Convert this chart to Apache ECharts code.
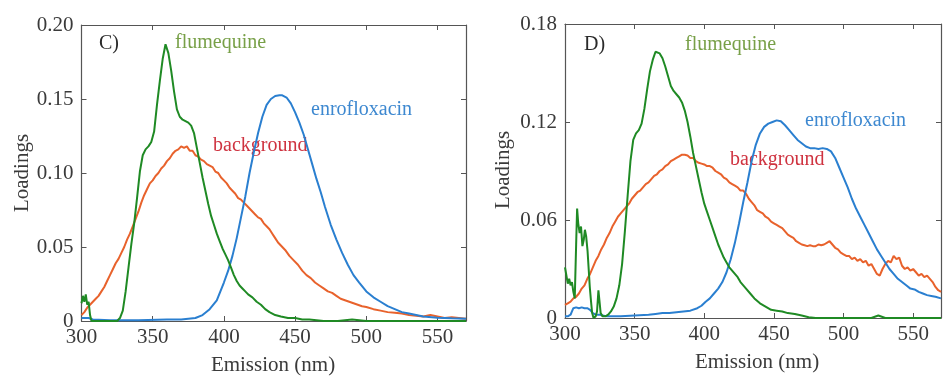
<!DOCTYPE html>
<html>
<head>
<meta charset="utf-8">
<script src="https://cdn.jsdelivr.net/npm/echarts@6/dist/echarts.min.js"></script>
<style>html,body{margin:0;padding:0;background:#fff}#c{width:944px;height:378px}</style>
</head>
<body>
<div id="c"></div>
<script>
// ---- Data (emission nm, loading) ----
const xTicks = [300, 350, 400, 450, 500, 550];
const yTicksC = [0, 0.05, 0.10, 0.15, 0.20];
const yTicksD = [0, 0.06, 0.12, 0.18];

const fluC = [[300,0.012],[301,0.017],[302,0.013],[303,0.018],[304,0.011],[305,0.013],[306,0.004],[307,0.000],[310,0.000],[315,0.000],[320,0.000],[325,0.000],[327,0.002],[329,0.007],[331,0.020],[333,0.036],[335,0.052],[337,0.066],[339,0.083],[341,0.101],[343,0.112],[345,0.116],[347,0.118],[349,0.121],[351,0.128],[353,0.146],[355,0.162],[357,0.177],[359,0.187],[360,0.186],[361,0.181],[363,0.169],[365,0.155],[367,0.143],[369,0.138],[371,0.136],[373,0.135],[375,0.134],[377,0.132],[379,0.127],[381,0.117],[383,0.107],[385,0.097],[387,0.088],[389,0.079],[391,0.071],[393,0.065],[395,0.059],[397,0.054],[399,0.049],[401,0.045],[403,0.041],[405,0.036],[407,0.031],[409,0.027],[411,0.024],[413,0.022],[415,0.020],[417,0.018],[420,0.016],[423,0.013],[426,0.011],[429,0.008],[432,0.006],[436,0.004],[440,0.003],[445,0.002],[450,0.002],[455,0.001],[460,0.001],[470,0.000],[480,0.000],[490,0.001],[500,0.000],[520,0.000],[540,0.000],[560,0.000],[570,0.000]];

const enroC = [[300,0.002],[305,0.002],[308,0.001],[320,0.0005],[340,0.0005],[360,0.001],[370,0.001],[375,0.0015],[380,0.002],[385,0.004],[390,0.008],[395,0.014],[400,0.026],[403,0.034],[406,0.044],[409,0.056],[412,0.070],[415,0.084],[418,0.100],[421,0.114],[424,0.127],[427,0.138],[430,0.146],[433,0.150],[436,0.152],[439,0.1525],[441,0.1525],[444,0.151],[447,0.147],[450,0.141],[453,0.134],[456,0.126],[459,0.116],[462,0.106],[465,0.096],[468,0.087],[471,0.077],[475,0.065],[479,0.055],[483,0.046],[487,0.038],[491,0.031],[495,0.026],[500,0.020],[505,0.016],[510,0.013],[515,0.010],[520,0.008],[525,0.006],[530,0.005],[535,0.004],[540,0.003],[550,0.0022],[560,0.0018],[570,0.0015]];

const bgC = [[300,0.004],[302,0.006],[304,0.009],[306,0.011],[308,0.013],[310,0.015],[312,0.017],[314,0.020],[316,0.023],[318,0.027],[320,0.031],[322,0.035],[324,0.039],[326,0.042],[328,0.046],[330,0.050],[332,0.055],[334,0.059],[336,0.064],[338,0.069],[340,0.074],[342,0.080],[344,0.085],[346,0.089],[348,0.093],[350,0.095],[352,0.098],[354,0.100],[356,0.103],[358,0.105],[360,0.108],[362,0.110],[364,0.113],[366,0.115],[368,0.116],[370,0.118],[372,0.117],[374,0.118],[376,0.115],[378,0.115],[380,0.112],[382,0.111],[384,0.109],[386,0.108],[388,0.106],[390,0.105],[392,0.104],[394,0.101],[396,0.100],[398,0.097],[400,0.095],[402,0.093],[404,0.090],[406,0.088],[408,0.086],[410,0.083],[412,0.082],[414,0.080],[416,0.078],[418,0.076],[420,0.074],[422,0.072],[424,0.070],[426,0.069],[428,0.066],[430,0.064],[432,0.062],[434,0.059],[436,0.056],[438,0.053],[440,0.051],[443,0.048],[446,0.044],[449,0.041],[452,0.038],[455,0.034],[458,0.031],[461,0.029],[464,0.026],[467,0.024],[470,0.022],[473,0.020],[476,0.019],[479,0.017],[482,0.015],[485,0.014],[488,0.013],[491,0.012],[494,0.011],[497,0.010],[500,0.0095],[505,0.008],[510,0.007],[515,0.006],[520,0.0055],[525,0.005],[530,0.004],[535,0.0035],[540,0.003],[545,0.004],[550,0.003],[555,0.002],[560,0.0025],[565,0.002],[570,0.0015]];

const fluD = [[300,0.031],[301,0.026],[302,0.021],[303,0.024],[304,0.020],[305,0.022],[306,0.016],[307,0.012],[308,0.045],[308.7,0.067],[309.5,0.058],[310.5,0.052],[311.5,0.056],[312.5,0.044],[313.5,0.048],[314.3,0.054],[315.2,0.050],[316.2,0.041],[317,0.030],[317.8,0.019],[318.7,0.010],[319.5,0.003],[320.5,0.000],[322,0.001],[323,0.004],[324,0.017],[324.8,0.010],[325.6,0.003],[327,0.001],[329,0.001],[331,0.002],[333,0.004],[335,0.007],[337,0.012],[339,0.020],[341,0.033],[343,0.053],[345,0.075],[347,0.096],[349,0.109],[351,0.113],[353,0.115],[355,0.119],[357,0.128],[359,0.140],[361,0.151],[363,0.158],[365,0.163],[366,0.164],[368,0.162],[370,0.159],[372,0.154],[374,0.148],[376,0.142],[378,0.139],[380,0.137],[382,0.135],[384,0.132],[386,0.127],[388,0.120],[390,0.111],[392,0.101],[394,0.093],[396,0.085],[398,0.077],[400,0.070],[402,0.065],[404,0.060],[406,0.055],[408,0.050],[410,0.045],[412,0.041],[414,0.037],[416,0.034],[418,0.031],[420,0.029],[422,0.027],[424,0.025],[426,0.022],[428,0.020],[430,0.018],[433,0.015],[436,0.012],[440,0.009],[444,0.007],[448,0.005],[452,0.0045],[456,0.004],[460,0.003],[465,0.0025],[470,0.0015],[475,0.0005],[480,0.000],[500,0.000],[520,0.000],[525,0.0015],[530,0.000],[550,0.000],[570,0.000]];

const enroD = [[300,0.001],[302,0.001],[304,0.002],[305,0.004],[306,0.006],[308,0.0065],[310,0.006],[312,0.0065],[314,0.006],[316,0.006],[318,0.005],[320,0.003],[322,0.002],[325,0.002],[330,0.001],[340,0.001],[350,0.0015],[360,0.002],[365,0.0025],[370,0.003],[375,0.003],[380,0.0035],[385,0.004],[390,0.0045],[395,0.006],[398,0.0075],[401,0.010],[404,0.012],[407,0.015],[410,0.018],[413,0.022],[416,0.028],[419,0.036],[422,0.046],[425,0.058],[428,0.071],[431,0.083],[434,0.096],[437,0.106],[440,0.113],[443,0.117],[446,0.119],[449,0.120],[452,0.121],[455,0.1205],[458,0.118],[461,0.115],[464,0.112],[467,0.109],[470,0.107],[473,0.105],[476,0.104],[479,0.104],[482,0.1035],[485,0.104],[488,0.1035],[491,0.102],[494,0.098],[497,0.092],[500,0.086],[503,0.080],[506,0.073],[509,0.067],[512,0.062],[515,0.057],[518,0.052],[521,0.047],[524,0.042],[527,0.038],[530,0.034],[533,0.030],[536,0.027],[539,0.024],[542,0.022],[545,0.020],[548,0.018],[551,0.0175],[554,0.016],[557,0.015],[560,0.014],[563,0.0135],[566,0.013],[570,0.012]];

const bgD = [[300,0.008],[302,0.009],[304,0.010],[306,0.012],[308,0.013],[310,0.015],[312,0.018],[314,0.020],[316,0.024],[318,0.027],[320,0.031],[322,0.035],[324,0.038],[326,0.042],[328,0.045],[330,0.049],[332,0.052],[334,0.056],[336,0.059],[338,0.062],[340,0.064],[342,0.066],[344,0.068],[346,0.070],[348,0.073],[350,0.075],[352,0.077],[354,0.078],[356,0.080],[358,0.082],[360,0.083],[362,0.085],[364,0.087],[366,0.088],[368,0.090],[370,0.091],[372,0.093],[374,0.094],[376,0.096],[378,0.097],[380,0.098],[382,0.099],[384,0.100],[386,0.100],[388,0.0995],[390,0.098],[392,0.098],[394,0.096],[396,0.095],[398,0.0945],[400,0.094],[402,0.093],[404,0.093],[406,0.092],[408,0.090],[410,0.089],[412,0.088],[414,0.086],[416,0.085],[418,0.083],[420,0.082],[422,0.081],[424,0.080],[426,0.078],[428,0.078],[430,0.076],[432,0.073],[434,0.071],[436,0.069],[438,0.066],[440,0.065],[442,0.064],[444,0.062],[446,0.061],[448,0.059],[450,0.058],[452,0.057],[454,0.056],[456,0.055],[458,0.053],[460,0.051],[462,0.050],[464,0.049],[466,0.047],[468,0.046],[470,0.045],[472,0.0445],[474,0.044],[476,0.0445],[478,0.044],[480,0.044],[482,0.045],[484,0.0445],[486,0.045],[488,0.046],[490,0.047],[492,0.045],[494,0.043],[496,0.042],[498,0.040],[500,0.039],[502,0.038],[504,0.038],[506,0.036],[508,0.037],[510,0.035],[512,0.036],[514,0.034],[516,0.035],[518,0.032],[520,0.033],[522,0.030],[524,0.027],[526,0.026],[528,0.030],[530,0.033],[532,0.035],[534,0.034],[536,0.038],[538,0.036],[540,0.037],[542,0.032],[544,0.030],[546,0.031],[548,0.029],[550,0.030],[552,0.028],[554,0.026],[556,0.027],[558,0.025],[560,0.026],[562,0.024],[564,0.022],[566,0.019],[568,0.017],[570,0.016]];

const seriesNames = ['flumequine', 'enrofloxacin', 'background'];
const panelTags = ['C)', 'D)'];

// ---- Styles ----
const FONT = '"Liberation Serif", "Times New Roman", serif';
const COL = { flu: '#1f8a24', enro: '#2a7fd0', bg: '#e8622c' };
const LBL = { flu: '#78a048', enro: '#3d88d0', bg: '#cf3340' };
const AX = '#555';

function xAx(g, pos) {
  return {
    type: 'value', gridIndex: g, position: pos, min: 300, max: 570, interval: 50,
    axisLine: { show: true, onZero: false, lineStyle: { color: AX, width: 1.2 } },
    axisTick: { show: true, inside: true, length: 5, lineStyle: { color: AX } },
    axisLabel: pos === 'bottom' ? {
      show: true, fontFamily: FONT, fontSize: 21, color: '#3a3a3a', margin: 6,
      formatter: v => (xTicks.indexOf(v) >= 0 ? String(v) : '')
    } : { show: false },
    splitLine: { show: false }
  };
}
function yAx(g, pos, max, interval, ticks) {
  return {
    type: 'value', gridIndex: g, position: pos, min: 0, max: max, interval: interval,
    axisLine: { show: true, onZero: false, lineStyle: { color: AX, width: 1.2 } },
    axisTick: { show: true, inside: true, length: 5, lineStyle: { color: AX } },
    axisLabel: pos === 'left' ? {
      show: true, fontFamily: FONT, fontSize: 21, color: '#3a3a3a', margin: 8,
      formatter: v => {
        const t = ticks.find(x => Math.abs(x - v) < 1e-9);
        if (t === undefined) return '';
        return t === 0 ? '0' : t.toFixed(2);
      }
    } : { show: false },
    splitLine: { show: false }
  };
}
function line(data, color, xi, yi) {
  return {
    type: 'line', data: data, xAxisIndex: xi, yAxisIndex: yi,
    showSymbol: false, symbol: 'none', smooth: false, clip: true,
    lineStyle: { color: color, width: 2 }, itemStyle: { color: color },
    emphasis: { disabled: true }, animation: false
  };
}
function txt(s, x, y, color, size, align, rot) {
  return {
    type: 'text', x: x, y: y, rotation: rot || 0, silent: true,
    style: {
      text: s, fill: color, font: size + 'px ' + FONT,
      align: align || 'left', verticalAlign: 'middle',
      textAlign: align || 'left', textVerticalAlign: 'middle'
    }
  };
}

const chart = echarts.init(document.getElementById('c'), null, { renderer: 'canvas' });
chart.setOption({
  animation: false,
  backgroundColor: '#ffffff',
  grid: [
    { left: 81.5, top: 25, width: 384.5, height: 296 },
    { left: 565, top: 24, width: 383.4, height: 294 }
  ],
  xAxis: [xAx(0, 'bottom'), xAx(0, 'top'), xAx(1, 'bottom'), xAx(1, 'top')],
  yAxis: [
    yAx(0, 'left', 0.20, 0.05, yTicksC), yAx(0, 'right', 0.20, 0.05, yTicksC),
    yAx(1, 'left', 0.18, 0.06, yTicksD), yAx(1, 'right', 0.18, 0.06, yTicksD)
  ],
  series: [
    line(bgC, COL.bg, 0, 0), line(enroC, COL.enro, 0, 0), line(fluC, COL.flu, 0, 0),
    line(bgD, COL.bg, 2, 2), line(enroD, COL.enro, 2, 2), line(fluD, COL.flu, 2, 2)
  ],
  graphic: [
    txt('Loadings', 22, 173, '#3a3a3a', 21, 'center', Math.PI / 2),
    txt('Emission (nm)', 273, 365, '#3a3a3a', 21, 'center'),
    txt('Loadings', 503, 170, '#3a3a3a', 21, 'center', Math.PI / 2),
    txt('Emission (nm)', 757, 362, '#3a3a3a', 21, 'center'),
    txt(panelTags[0], 99, 44, '#2a2a2a', 20, 'left'),
    txt(seriesNames[0], 175, 43, LBL.flu, 20, 'left'),
    txt(seriesNames[1], 311, 110, LBL.enro, 20, 'left'),
    txt(seriesNames[2], 213, 146, LBL.bg, 20, 'left'),
    txt(panelTags[1], 584, 45, '#2a2a2a', 20, 'left'),
    txt(seriesNames[0], 685, 45, LBL.flu, 20, 'left'),
    txt(seriesNames[1], 805, 121, LBL.enro, 20, 'left'),
    txt(seriesNames[2], 730, 160, LBL.bg, 20, 'left')
  ]
});
</script>
</body>
</html>
